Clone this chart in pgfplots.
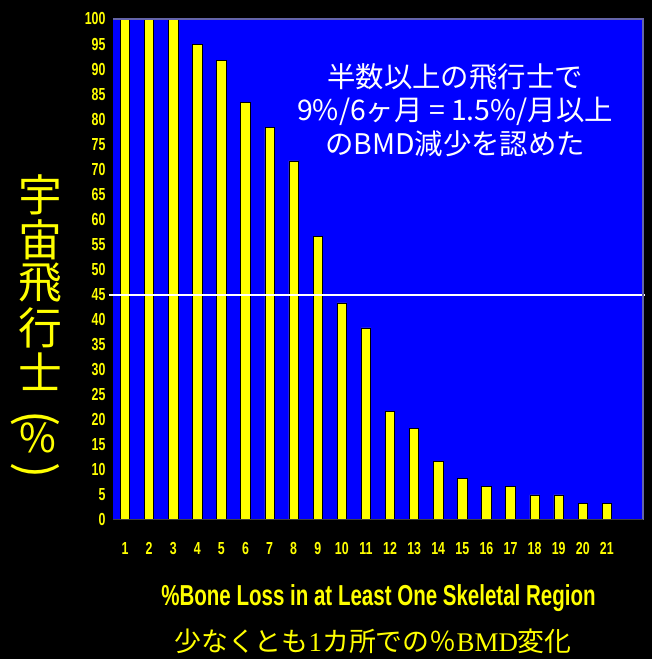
\documentclass[border=0pt]{standalone}
\usepackage{pgfplots}
\pgfplotsset{compat=1.18}
\usepackage{fontspec}
\setmainfont{Liberation Sans}
\newfontfamily\narrow[FakeStretch=0.71]{Liberation Sans}
\newfontfamily\cjk{Noto Sans CJK JP}
\newfontfamily\serif{Liberation Serif}
\definecolor{ylw}{RGB}{255,255,0}
\definecolor{plotblue}{RGB}{0,0,255}
\definecolor{framec}{RGB}{100,100,170}

\begin{document}
\begin{tikzpicture}[x=1bp,y=1bp]
\path[use as bounding box, fill=black] (0,0) rectangle (652,659);
\begin{axis}[
  at={(113bp,139bp)}, anchor=south west,
  scale only axis, width=530bp, height=501bp,
  xmin=0.5, xmax=22.5, ymin=0, ymax=100,
  axis line style={draw=none},
  axis background/.style={fill=plotblue},
  ytick={0,5,...,100}, xtick={1,...,21},
  major tick length=0pt,
  tick label style={font=\narrow\bfseries\fontsize{17.5}{17.5}\selectfont, text=ylw},
  /pgf/number format/assume math mode=true,
  xticklabel style={yshift=-19bp},
  yticklabel style={xshift=-4bp},
  clip=false,
]
% share of astronauts with at least the given bone loss (%)
\addplot[ybar, bar width=0.39, fill=ylw, draw=black, line width=0.8bp] coordinates {
  (1,100) (2,100) (3,100) (4,95) (5,91.67) (6,83.33) (7,78.33)
  (8,71.67) (9,56.67) (10,43.33) (11,38.33) (12,21.67) (13,18.33)
  (14,11.67) (15,8.33) (16,6.67) (17,6.67) (18,5) (19,5) (20,3.33) (21,3.33)
};
% 45 % reference line
\addplot[white, line width=2bp, mark=none] coordinates {(0.33,45) (22.58,45)};
\draw[framec, line width=1.2bp] (rel axis cs:0,1) -- (rel axis cs:1,1) -- (rel axis cs:1,0);
\draw[black!75, line width=1bp] (rel axis cs:0,0) -- (rel axis cs:1,0);
\node[text=white, font=\cjk\fontsize{28.5}{34}\selectfont, align=center]
  at (axis cs:14.7,81.8) {半数以上の飛行士で\\9\%/6ヶ月 = 1.5\%/月以上\\のBMD減少を認めた};
\end{axis}
% vertical axis title
\begin{scope}[every node/.style={text=ylw, inner sep=0pt, font=\cjk\fontsize{44}{44}\selectfont}]
\node at (40,464) {宇};
\node at (40,419) {宙};
\node at (40,376) {飛};
\node at (40,331) {行};
\node at (40,287) {士};
\node[rotate=-90, font=\cjk\fontsize{48}{48}\selectfont] at (35,240) {(};
\node[font=\cjk\fontsize{40}{40}\selectfont] at (38,221) {\%};
\node[rotate=-90, font=\cjk\fontsize{48}{48}\selectfont] at (35,188) {)};
\end{scope}
% horizontal axis title
\node[text=ylw, anchor=base, font=\narrow\bfseries\fontsize{29}{29}\selectfont]
  at (378.5,53) {\%Bone Loss in at Least One Skeletal Region};
\node[text=ylw, font=\cjk\fontsize{27}{27}\selectfont]
  at (373,18) {少なくとも{\serif 1}カ所での％{\serif BMD}変化};
\end{tikzpicture}
\end{document}
